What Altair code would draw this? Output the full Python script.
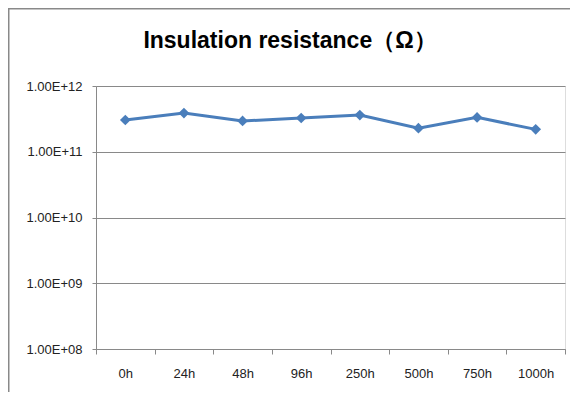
import altair as alt
import pandas as pd

categories = ["0h", "24h", "48h", "96h", "250h", "500h", "750h", "1000h"]
resistance = [3.04e11, 3.88e11, 2.94e11, 3.26e11, 3.62e11, 2.28e11, 3.33e11, 2.19e11]
y_ticks = [1e8, 1e9, 1e10, 1e11, 1e12]
title_text = "Insulation resistance（Ω）"

df = pd.DataFrame({"time": categories, "value": resistance})

BLUE = "#4A7EBB"
GRAY = "#898989"
FONT = "Liberation Sans"

exp_expr = "round(log(datum.value) / LN10)"
label_expr = f"'1.00E+' + ({exp_expr} < 10 ? '0' : '') + {exp_expr}"

line = alt.Chart(df).mark_line(
    color=BLUE, strokeWidth=3,
    point=alt.OverlayMarkDef(shape="diamond", size=115, filled=True, color=BLUE, opacity=1),
).encode(
    x=alt.X("time:N", sort=categories, title=None,
            scale=alt.Scale(type="band", paddingInner=0, paddingOuter=0),
            axis=alt.Axis(labelAngle=0, tickBand="extent", tickSize=5, tickColor=GRAY,
                          domainColor=GRAY, labelPadding=13, labelFontSize=13,
                          labelColor="#222222", labelFont=FONT, grid=False)),
    y=alt.Y("value:Q", title=None,
            scale=alt.Scale(type="log", domain=[1e8, 1e12], nice=False),
            axis=alt.Axis(values=y_ticks, labelExpr=label_expr,
                          grid=True, gridColor=GRAY, domainColor=GRAY, tickColor=GRAY,
                          tickSize=4, labelPadding=10, labelFontSize=13,
                          labelColor="#222222", labelFont=FONT)),
)

border = alt.Chart(alt.Data(values=[{"a": 1}])).mark_rect(
    fill=None, stroke=GRAY, strokeWidth=1.5
).encode(
    x=alt.value(-87.25), x2=alt.value(700), y=alt.value(-77.25), y2=alt.value(500)
)

title = alt.Chart(alt.Data(values=[{"a": 1}])).mark_text(
    fontSize=23, fontWeight="bold", font="Liberation Sans Narrow, Liberation Sans",
    color="#000000", align="center", baseline="alphabetic",
).encode(
    text=alt.value(title_text), x=alt.value(194), y=alt.value(-38)
)

chart = alt.layer(border, title, line).properties(
    width=469, height=263,
    autosize=alt.AutoSizeParams(type="none"),
    padding={"left": 88, "top": 78, "right": 5, "bottom": 43},
).configure_view(stroke=None).configure(background="white")

chart.save("out.html", embed_options={"renderer": "svg", "actions": False})
